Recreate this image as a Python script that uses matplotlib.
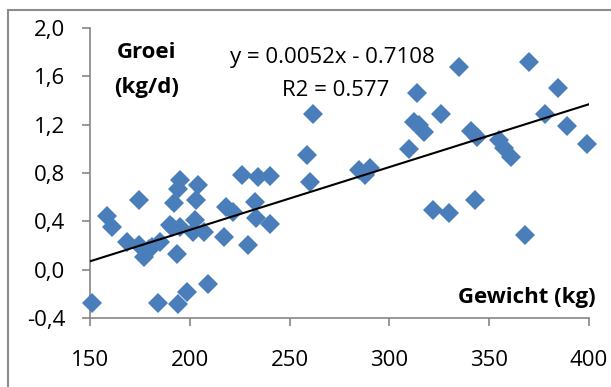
# Groei versus gewicht - scatter met trendlijn
import matplotlib
matplotlib.use("Agg")
import matplotlib.pyplot as plt
from matplotlib.patches import Rectangle
from matplotlib.ticker import FuncFormatter
import numpy as np

plt.rcParams['font.family'] = ['Open Sans', 'DejaVu Sans']

# gewicht (kg)
gewicht = [151, 158.5, 161, 168.5, 174.4, 174.4, 177, 179.4, 184.3, 185.3,
           191.3, 192.3, 193.6, 194.2, 194.2, 195.2, 195.2, 198.8, 201.6, 202.8,
           203.2, 204.2, 207, 209, 217, 218, 221.4, 226, 229.4, 232.5,
           233.3, 234, 240, 240.3, 258.7, 260.3, 261.7, 284.9, 288, 290.5,
           309.7, 312.3, 313.9, 314.7, 317.3, 321.8, 325.8, 329.8, 334.7, 341,
           343, 344, 355, 357.5, 361, 367.9, 369.8, 377.8, 384.7, 389,
           399.2, 180.9, 190.0]
# groei (kg/d)
groei = [-0.28, 0.44, 0.355, 0.225, 0.58, 0.20, 0.105, 0.175, -0.275, 0.225,
         0.355, 0.55, 0.13, -0.285, 0.67, 0.74, 0.355, -0.185, 0.31, 0.41,
         0.575, 0.70, 0.31, -0.115, 0.267, 0.52, 0.48, 0.783, 0.20, 0.562,
         0.424, 0.77, 0.377, 0.778, 0.95, 0.728, 1.29, 0.825, 0.783, 0.839,
         1.0, 1.226, 1.46, 1.198, 1.137, 0.493, 1.29, 0.466, 1.68, 1.15,
         0.576, 1.10, 1.073, 1.005, 0.93, 0.286, 1.72, 1.29, 1.50, 1.19,
         1.04, 0.19, 0.37]

# trendlijn uit de grafiek
slope = 0.0052
intercept = -0.7108

x_ticks = [150, 200, 250, 300, 350, 400]
y_ticks = [-0.4, 0.0, 0.4, 0.8, 1.2, 1.6, 2.0]

W, H = 611, 387
fig = plt.figure(figsize=(W / 100, H / 100), dpi=100)

# grijze kader rond de grafiek
fig.add_artist(Rectangle((8 / W, -0.5), 2.0, 1.5 - 10 / H, transform=fig.transFigure,
                         fill=False, edgecolor='#8c8c8c', linewidth=1.5))

ax = fig.add_axes([90 / W, 1 - 318 / H, (589 - 90) / W, (318 - 28) / H])

ax.plot(gewicht, groei, linestyle='none', marker='D', markersize=10.5,
        color='#4A7EBB', markeredgewidth=0, clip_on=False, zorder=3)

xl = np.array([150, 400])
ax.plot(xl, slope * xl + intercept, color='black', linewidth=1.5, zorder=4)

ax.set_xlim(150, 400)
ax.set_ylim(-0.4, 2.0)
ax.set_xticks(x_ticks)
ax.set_yticks(y_ticks)
ax.yaxis.set_major_formatter(FuncFormatter(lambda v, p: f"{v:.1f}".replace('.', ',')))

for s in ['top', 'right']:
    ax.spines[s].set_visible(False)
for s in ['left', 'bottom']:
    ax.spines[s].set_color('#868686')
    ax.spines[s].set_linewidth(1.2)
ax.tick_params(axis='both', direction='out', length=6, width=1.2, color='#868686',
               labelsize=16, labelcolor='black')
ax.tick_params(axis='x', pad=17)
ax.tick_params(axis='y', pad=12)

ax.text(147 / W, 1 - 53 / H, "Groei", transform=fig.transFigure, ha='center', va='center',
        fontsize=16, fontweight='bold')
ax.text(147 / W, 1 - 88 / H, "(kg/d)", transform=fig.transFigure, ha='center', va='center',
        fontsize=16, fontweight='bold')
ax.text(230 / W, 1 - 58 / H, "y = 0.0052x - 0.7108", transform=fig.transFigure,
        ha='left', va='center', fontsize=16)
ax.text(282 / W, 1 - 90 / H, "R2 = 0.577", transform=fig.transFigure,
        ha='left', va='center', fontsize=16)
ax.text(596 / W, 1 - 298 / H, "Gewicht (kg)", transform=fig.transFigure,
        ha='right', va='center', fontsize=16, fontweight='bold')

fig.savefig("out.png", dpi=100)
